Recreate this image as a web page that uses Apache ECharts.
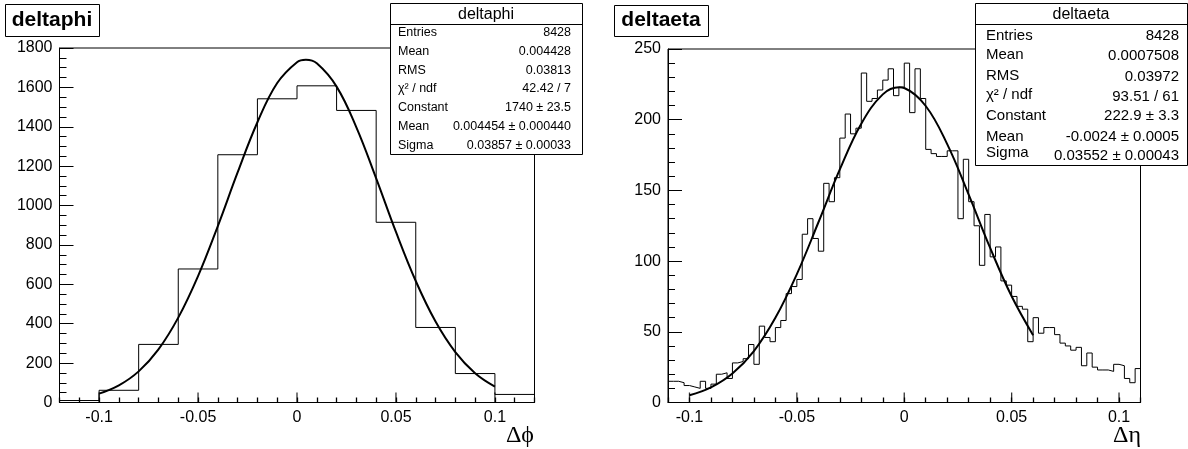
<!DOCTYPE html>
<html>
<head>
<meta charset="utf-8">
<script src="https://cdn.jsdelivr.net/npm/echarts@6/dist/echarts.min.js"></script>
<style>
  html, body { margin: 0; background: #fff; }
  #chart { width: 1188px; height: 449px; }
</style>
</head>
<body>
<div id="chart"></div>
<script>
// deltaphi histogram: 12 bins of 0.02
const phiEdges = [-0.12, -0.10, -0.08, -0.06, -0.04, -0.02, 0, 0.02, 0.04, 0.06, 0.08, 0.10, 0.12]
const phiCounts = [10, 62, 295, 678, 1258, 1542, 1608, 1483, 915, 381, 147, 41]
// gaus fit curve
const phiFitX = [-0.10, -0.09, -0.08, -0.07, -0.06, -0.05, -0.04, -0.03, -0.02, -0.01, 0, 0.0045, 0.01, 0.02, 0.03, 0.04, 0.05, 0.06, 0.07, 0.08, 0.09, 0.10]
const phiFitY = [45, 87, 158, 270, 431, 642, 896, 1168, 1423, 1622, 1728, 1740, 1722, 1604, 1397, 1138, 866, 617, 411, 256, 149, 81]

// deltaeta histogram: 88 bins of 0.0025 from -0.11
const etaLow = -0.11
const etaBinWidth = 0.0025
const etaCounts = [
  15, 15, 14, 12, 11, 10, 15, 10, 13, 20,
  21, 17, 28, 29, 31, 41, 27, 54, 46, 43,
  53, 58, 77, 82, 87, 119, 130, 116, 107, 155,
  142, 159, 187, 204, 190, 194, 233, 213, 215, 221,
  228, 236, 217, 223, 240, 205, 236, 215, 179, 176,
  174, 174, 178, 178, 130, 172, 142, 125, 97, 133,
  103, 110, 86, 83, 75, 68, 66, 43, 60, 49,
  53, 53, 48, 42, 40, 37, 39, 26, 35, 25,
  23, 23, 22, 27, 26, 17, 14, 24
]
const etaFitX = [-0.10, -0.09, -0.08, -0.07, -0.06, -0.05, -0.04, -0.03, -0.02, -0.01, -0.0024, 0, 0.01, 0.02, 0.03, 0.04, 0.05, 0.06]
const etaFitY = [5.1, 10.7, 20.5, 36.4, 59.9, 90.8, 127.3, 164.8, 197.2, 217.9, 222.9, 222.4, 209.7, 182.7, 147.0, 109.3, 75.1, 47.6]

// labelled (major) x ticks
const majorTicks = [-0.1, -0.05, 0, 0.05, 0.1]

const phiStats = [
  ["Entries", "8428"], ["Mean", "0.004428"], ["RMS", "0.03813"], ["χ² / ndf", "42.42 / 7"],
  ["Constant", "1740 ± 23.5"], ["Mean", "0.004454 ± 0.000440"], ["Sigma", "0.03857 ± 0.00033"]
]
const etaStats = [
  ["Entries", "8428"], ["Mean", "0.0007508"], ["RMS", "0.03972"], ["χ² / ndf", "93.51 / 61"],
  ["Constant", "222.9 ± 3.3"], ["Mean", "-0.0024 ± 0.0005"], ["Sigma", "0.03552 ± 0.00043"]
]

const FONT = "'Liberation Sans', Arial, Helvetica, sans-serif"

function histData(edges, counts) {
  const d = counts.map((c, i) => [edges[i], c])
  d.push([edges[edges.length - 1], counts[counts.length - 1]])
  return d
}
const etaEdges = []
for (let i = 0; i <= etaCounts.length; i++) etaEdges.push(+(etaLow + i * etaBinWidth).toFixed(5))

function isMajor(v) {
  return majorTicks.some(m => Math.abs(m - v) < 1e-6)
}

// small ticks every 0.01 from the axis itself, labels only on the majors
function xAxis(grid, min, max) {
  return {
    gridIndex: grid, type: "value", min: min, max: max, interval: 0.01, position: "bottom",
    axisLine: { show: true, onZero: false, lineStyle: { color: "#000", width: 1 } },
    axisTick: { show: true, inside: true, length: 5, lineStyle: { color: "#000", width: 1.3 } },
    axisLabel: { show: true, margin: 7, color: "#000", fontSize: 16, fontFamily: FONT,
      formatter: v => isMajor(v) ? String(+v.toFixed(3)) : "" },
    splitLine: { show: false }
  }
}

function yAxis(grid, max, interval, split) {
  return {
    gridIndex: grid, type: "value", min: 0, max: max, interval: interval, position: "left",
    axisLine: { show: true, onZero: false, lineStyle: { color: "#000", width: 1 } },
    axisTick: { show: true, inside: true, length: 14, lineStyle: { color: "#000", width: 1 } },
    minorTick: { show: true, splitNumber: split, length: 7, lineStyle: { color: "#000", width: 1 } },
    axisLabel: { margin: 7, color: "#000", fontSize: 16, fontFamily: FONT, formatter: v => String(v) },
    splitLine: { show: false },
    minorSplitLine: { show: false }
  }
}

// the longer ticks at the labelled x values
function majorTickSeries(axis) {
  return {
    type: "scatter", xAxisIndex: axis, yAxisIndex: axis, symbol: "rect", symbolSize: [1.3, 10], symbolOffset: [0, -5],
    itemStyle: { color: "#000" }, clip: false, silent: true, z: 5,
    data: majorTicks.map(v => [v, 0])
  }
}

function txt(x, y, s, font, align) {
  return { type: "text", z: 102, x: x, y: y,
    style: { text: s, font: font, fill: "#000", textAlign: align, textVerticalAlign: "middle" } }
}

function statsBox(x, y, w, h, sep, title, rows, labelY, valueY, labelX, valueX, size) {
  const els = [
    { type: "rect", z: 100, shape: { x: x + 0.5, y: y + 0.5, width: w, height: h },
      style: { fill: "#fff", stroke: "#000", lineWidth: 1 } },
    { type: "line", z: 101, shape: { x1: x, y1: sep + 0.5, x2: x + w, y2: sep + 0.5 },
      style: { stroke: "#000", lineWidth: 1 } },
    txt(x + w / 2, (y + sep) / 2 + 1, title, "16px " + FONT, "center")
  ]
  rows.forEach((r, i) => {
    els.push(txt(labelX, labelY[i], r[0], size + "px " + FONT, "left"))
    els.push(txt(valueX, valueY[i], r[1], size + "px " + FONT, "right"))
  })
  return els
}

function titleBox(x, y, w, h, s) {
  return [
    { type: "rect", z: 100, shape: { x: x + 0.5, y: y + 0.5, width: w, height: h },
      style: { fill: "#fff", stroke: "#000", lineWidth: 1 } },
    txt(x + w / 2, y + h / 2, s, "bold 21px " + FONT, "center")
  ]
}

const chart = echarts.init(document.getElementById("chart"), null, { renderer: "canvas" })

const option = {
  animation: false,
  backgroundColor: "#fff",
  grid: [
    { left: 59.5, top: 48, width: 475, height: 354.5, show: true, borderColor: "#000", borderWidth: 1 },
    { left: 668, top: 49, width: 472.5, height: 353.5, show: true, borderColor: "#000", borderWidth: 1 }
  ],
  xAxis: [xAxis(0, -0.12, 0.12), xAxis(1, -0.11, 0.11)],
  yAxis: [yAxis(0, 1800, 200, 4), yAxis(1, 250, 50, 5)],
  series: [
    { type: "line", xAxisIndex: 0, yAxisIndex: 0, step: "end", symbol: "none",
      lineStyle: { color: "#000", width: 1 }, data: histData(phiEdges, phiCounts) },
    { type: "line", xAxisIndex: 0, yAxisIndex: 0, smooth: 0.4, symbol: "none",
      lineStyle: { color: "#000", width: 2 }, data: phiFitX.map((x, i) => [x, phiFitY[i]]) },
    { type: "line", xAxisIndex: 1, yAxisIndex: 1, step: "end", symbol: "none",
      lineStyle: { color: "#000", width: 1 }, data: histData(etaEdges, etaCounts) },
    { type: "line", xAxisIndex: 1, yAxisIndex: 1, smooth: 0.4, symbol: "none",
      lineStyle: { color: "#000", width: 2 }, data: etaFitX.map((x, i) => [x, etaFitY[i]]) },
    majorTickSeries(0),
    majorTickSeries(1)
  ],
  graphic: [].concat(
    titleBox(5, 4, 94, 32, "deltaphi"),
    titleBox(614, 5, 94, 31, "deltaeta"),
    statsBox(390, 3, 192, 151, 24, "deltaphi", phiStats,
      [32.3, 51.7, 71, 88.3, 107.3, 126.7, 145.7], [32.3, 51.7, 71, 88.3, 107.3, 126.7, 145.7], 398, 571, 12.5),
    statsBox(975, 3, 212, 162, 24, "deltaeta", etaStats,
      [36, 55, 76, 95, 115.7, 136.7, 152.7], [36, 56, 76.7, 96.7, 115.7, 136.7, 156], 986, 1179, 15),
    [
      txt(534, 436, "Δϕ", "24px 'Liberation Serif', 'DejaVu Serif', serif", "right"),
      txt(1141, 436, "Δη", "24px 'Liberation Serif', 'DejaVu Serif', serif", "right")
    ]
  )
}

chart.setOption(option)
</script>
</body>
</html>
